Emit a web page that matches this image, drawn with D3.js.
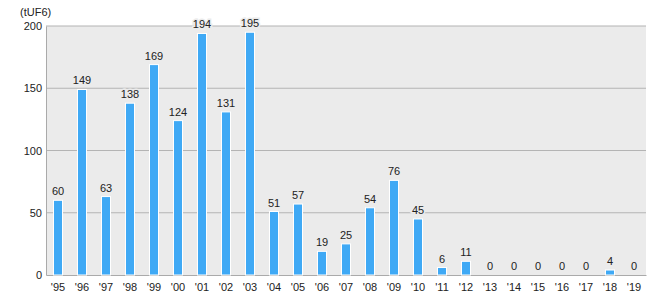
<!DOCTYPE html>
<html>
<head>
<meta charset="utf-8">
<script src="https://cdn.jsdelivr.net/npm/d3@7"></script>
<style>
  body { margin: 0; background: #fff; }
  text { font-family: "Liberation Sans", Arial, sans-serif; fill: #222; }
</style>
</head>
<body>
<div id="chart"></div>
<script>
// years and values (tUF6)
var years = ["'95","'96","'97","'98","'99","'00","'01","'02","'03","'04","'05","'06","'07","'08","'09","'10","'11","'12","'13","'14","'15","'16","'17","'18","'19"];
var values = [60,149,63,138,169,124,194,131,195,51,57,19,25,54,76,45,6,11,0,0,0,0,0,4,0];
var yTicks = [0, 50, 100, 150, 200];
var unitLabel = "(tUF6)";

var margin = {top: 26, right: 24, bottom: 25, left: 46},
    width = 670 - margin.left - margin.right,
    height = 300 - margin.top - margin.bottom;

var svg = d3.select("#chart")
  .append("svg")
  .attr("width", 670)
  .attr("height", 300)
  .append("g")
  .attr("transform", "translate(" + margin.left + "," + margin.top + ")");

// background
svg.append("rect")
  .attr("width", width)
  .attr("height", height)
  .attr("fill", "#ebebeb");

var x = d3.scaleBand()
  .domain(years)
  .range([0, width]);

var y = d3.scaleLinear()
  .domain([0, 200])
  .range([height, 0]);

// gridlines
svg.append("g")
  .selectAll("line")
  .data(yTicks.slice(1))
  .enter()
  .append("line")
    .attr("x1", 0)
    .attr("x2", width)
    .attr("y1", function (d) { return y(d); })
    .attr("y2", function (d) { return y(d); })
    .attr("stroke", "#b4b4b4")
    .attr("stroke-width", 1.2);

// y axis
var yAxis = svg.append("g")
  .call(d3.axisLeft(y).tickValues(yTicks).tickSize(0).tickPadding(4));
yAxis.select(".domain").attr("stroke", "#aaa");
yAxis.selectAll("text").style("font-size", "11px").attr("fill", "#222");

// x axis
var xAxis = svg.append("g")
  .attr("transform", "translate(0," + height + ")")
  .call(d3.axisBottom(x).tickSize(0).tickPadding(8));
xAxis.select(".domain").attr("stroke", "#aaa");
xAxis.selectAll("text").style("font-size", "11px").attr("fill", "#222");

// bars
var barW = 9;
svg.append("g")
  .selectAll("rect")
  .data(values)
  .enter()
  .append("rect")
    .attr("x", function (d, i) { return x(years[i]) + x.bandwidth() / 2 - barW / 2; })
    .attr("y", function (d) { return y(d); })
    .attr("width", barW)
    .attr("height", function (d) { return height - y(d); })
    .attr("fill", "#3fa9f5")
    .attr("stroke", "#fff")
    .attr("stroke-width", 1)
    .style("display", function (d) { return d > 0 ? null : "none"; });

// value labels
svg.append("g")
  .selectAll("text")
  .data(values)
  .enter()
  .append("text")
    .attr("x", function (d, i) { return x(years[i]) + x.bandwidth() / 2; })
    .attr("y", function (d) { return y(d) - 5; })
    .attr("text-anchor", "middle")
    .style("font-size", "11px")
    .style("paint-order", "stroke")
    .attr("stroke", "#ebebeb")
    .attr("stroke-width", 3)
    .text(function (d) { return d; });

// unit
svg.append("text")
  .attr("x", -26)
  .attr("y", -10)
  .style("font-size", "11px")
  .text(unitLabel);
</script>
</body>
</html>
